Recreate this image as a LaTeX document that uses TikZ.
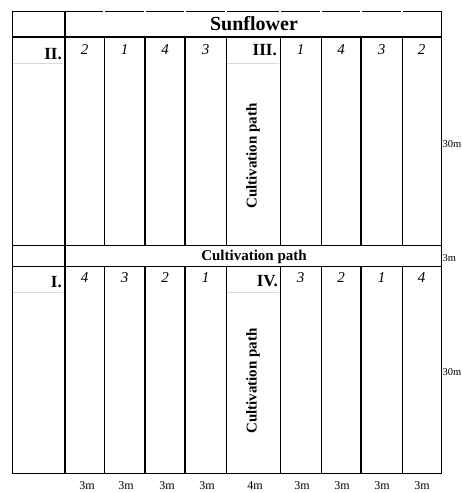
\documentclass[tikz,border=0pt]{standalone}
\usepackage{fontspec}
\setmainfont{Liberation Serif}
\begin{document}
\begin{tikzpicture}[x=1pt, y=-1pt,
  gridline/.style={draw, line width=0.9pt},
  boldline/.style={draw, line width=1.8pt},
  ruleline/.style={draw=black!15, line width=0.8pt},
  titlelabel/.style={font=\fontsize{20}{21}\selectfont\bfseries, inner sep=0pt},
  blocklabel/.style={font=\fontsize{17}{18}\selectfont\bfseries, inner sep=0pt, anchor=east},
  plotnum/.style={font=\fontsize{15}{16}\selectfont\itshape, inner sep=0pt},
  pathlabel/.style={font=\fontsize{15}{16}\selectfont\bfseries, inner sep=0pt},
  dimlabel/.style={font=\fontsize{12}{13}\selectfont, inner sep=0pt},
  sidelabel/.style={font=\fontsize{10.5}{11}\selectfont, inner sep=0pt, anchor=west}
]
\useasboundingbox (0,0) rectangle (461,493);

% top edge, broken at the column lines
\foreach \a/\b in {12/103, 105/144, 146/184, 186/225, 227/279, 281/320, 322/360, 362/401, 403/441}
  \draw[gridline] (\a,11) -- (\b,11);

% outer frame and rows
\draw[gridline] (12,11) -- (12,473) -- (441,473) -- (441,11);
\draw[boldline] (65,11) -- (65,473);
\draw[boldline] (12,37) -- (441,37);
\draw[gridline] (12,245) -- (441,245);
\draw[gridline] (12,266) -- (441,266);

% plot columns
\foreach \x/\w in {104/gridline, 145/boldline, 185/boldline, 226/gridline,
                   280/gridline, 321/gridline, 361/boldline, 402/gridline} {
  \draw[\w] (\x,37) -- (\x,245);
  \draw[\w] (\x,266) -- (\x,473);
}

% thin rules under the block labels
\draw[ruleline] (13,63) -- (63,63);
\draw[ruleline] (227,63) -- (279,63);
\draw[ruleline] (13,292) -- (63,292);
\draw[ruleline] (227,292) -- (279,292);

\node[titlelabel] (title) at (254,24) {Sunflower};

\node[blocklabel] (blockII) at (62,54) {II.};
\node[blocklabel] (blockIII) at (277,50) {III.};
\node[blocklabel] (blockI) at (62,282) {I.};
\node[blocklabel] (blockIV) at (278,281) {IV.};

% plot numbers
\foreach \x/\t/\b [count=\i] in {84.5/2/4, 124.5/1/3, 165/4/2, 205.5/3/1,
                                 300.5/1/3, 341/4/2, 381.5/3/1, 421.5/2/4} {
  \node[plotnum] (top-\i) at (\x,50) {\t};
  \node[plotnum] (low-\i) at (\x,278) {\b};
}

% cultivation paths
\node[pathlabel, rotate=90] (pathup) at (253,156) {Cultivation path};
\node[pathlabel, rotate=90] (pathlow) at (253,381) {Cultivation path};
\node[pathlabel] (pathmid) at (254,257) {Cultivation path};

% dimensions
\foreach \x/\d [count=\i] in {87/3m, 126/3m, 167/3m, 207/3m, 255/4m, 302/3m, 342/3m, 382/3m, 422/3m}
  \node[dimlabel] (dim-\i) at (\x,486) {\d};
\node[sidelabel] (dimup) at (442.5,144) {30m};
\node[sidelabel] (dimmid) at (442.5,258) {3m};
\node[sidelabel] (dimlow) at (442.5,372) {30m};
\end{tikzpicture}
\end{document}
